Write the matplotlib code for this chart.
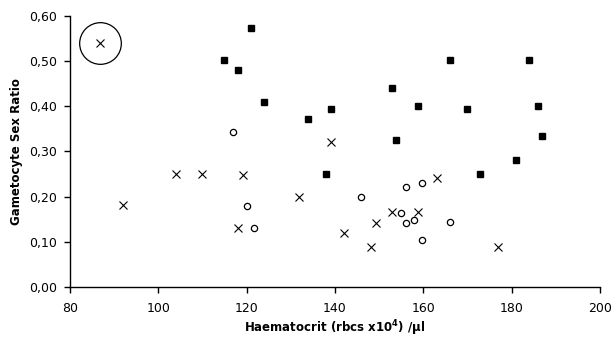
import matplotlib
matplotlib.use("Agg")
import matplotlib.pyplot as plt
from matplotlib.ticker import FuncFormatter

# filled squares
sq_x = [121.0, 114.9, 118.0, 123.9, 133.8, 139.0, 166.0, 183.9, 152.8, 158.7,
        169.8, 186.0, 153.9, 186.8, 180.9, 137.9, 172.9]
sq_y = [0.573, 0.501, 0.481, 0.409, 0.371, 0.393, 0.501, 0.501, 0.440, 0.401,
        0.393, 0.401, 0.326, 0.333, 0.281, 0.250, 0.250]

# open circles
oc_x = [116.9, 120.0, 121.7, 145.9, 156.0, 159.8, 154.9, 158.0, 156.0, 166.0, 159.8]
oc_y = [0.343, 0.180, 0.130, 0.200, 0.221, 0.231, 0.163, 0.148, 0.141, 0.143, 0.105]

# crosses
cx_x = [86.9, 92.1, 103.9, 110.0, 119.1, 131.9, 139.1, 118.1, 163.0, 152.9,
        158.9, 149.2, 142.0, 148.1, 177.0]
cx_y = [0.540, 0.181, 0.249, 0.249, 0.247, 0.199, 0.320, 0.131, 0.242, 0.166,
        0.166, 0.141, 0.119, 0.089, 0.089]

# highlighted outlier
hl_x = [86.9]
hl_y = [0.540]

plt.rcParams['font.family'] = ['DejaVu Sans']

fig = plt.figure(figsize=(6.16, 3.41), dpi=100)
ax = fig.add_axes([0.1136, 0.158, 0.8604, 0.796])

ax.plot(sq_x, sq_y, 's', color='black', markersize=5, linestyle='none')
ax.plot(oc_x, oc_y, 'o', mfc='white', mec='black', mew=0.9, markersize=4.5, linestyle='none')
ax.plot(cx_x, cx_y, 'x', color='black', mew=0.8, markersize=5.5, linestyle='none')
ax.plot(hl_x, hl_y, 'o', mfc='none', mec='black', mew=0.9, markersize=30, linestyle='none')

ax.set_xlim(80, 200)
ax.set_ylim(0, 0.6)
ax.set_xticks(range(80, 201, 20))
ax.set_yticks([i / 10 for i in range(7)])
ax.yaxis.set_major_formatter(FuncFormatter(lambda v, p: ("%.2f" % v).replace(".", ",")))

for s in ['top', 'right']:
    ax.spines[s].set_visible(False)
for s in ['left', 'bottom']:
    ax.spines[s].set_linewidth(1.0)
ax.tick_params(direction='out', length=4.5, width=1, labelsize=9)
ax.tick_params(axis='x', pad=6)
ax.tick_params(axis='y', pad=4.5)

ax.set_xlabel(r'Haematocrit (rbcs x10$^{\mathbf{4}}$) /µl', fontsize=8.5, fontweight='bold', labelpad=3)
ax.set_ylabel('Gametocyte Sex Ratio', fontsize=8.5, fontweight='bold', labelpad=5)

fig.savefig('out.png', dpi=100)
